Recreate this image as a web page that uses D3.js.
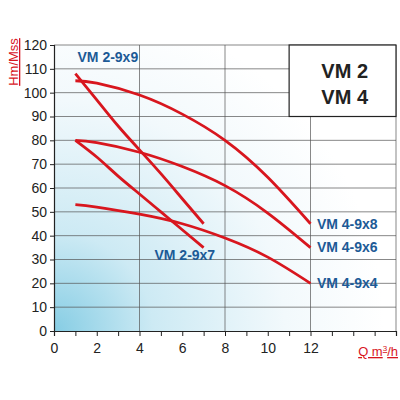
<!DOCTYPE html>
<html><head><meta charset="utf-8">
<script src="https://cdn.jsdelivr.net/npm/d3@7"></script>
<style>body{margin:0;background:#fff}</style></head>
<body><div id="chart"></div>
<script>
const xTicks = [0, 2, 4, 6, 8, 10, 12];
const yTicks = d3.range(0, 121, 10);
const seriesNames = ["VM 2-9x9", "VM 2-9x7", "VM 4-9x8", "VM 4-9x6", "VM 4-9x4"];
const q29 = [1, 2, 3, 4, 5, 6, 7];
const h299 = [108, 97, 86, 76, 66, 55.5, 45];
const h297 = [80, 73, 65, 57.5, 50, 42.5, 35];
const q49 = [1, 2, 4, 6, 8, 10, 12];
const h498 = [105, 104, 99, 91, 80, 64.5, 45];
const h496 = [80, 79, 75, 69, 61, 49.5, 35];
const h494 = [53, 52, 49, 45, 39, 31, 20];
const series = [
  { name: seriesNames[0], q: q29, h: h299, lx: 1.1, ly: 113 },
  { name: seriesNames[1], q: q29, h: h297, lx: 4.7, ly: 30 },
  { name: seriesNames[2], q: q49, h: h498, lx: 12.3, ly: 43 },
  { name: seriesNames[3], q: q49, h: h496, lx: 12.3, ly: 33 },
  { name: seriesNames[4], q: q49, h: h494, lx: 12.3, ly: 18 }
];

const svg = d3.select("#chart").append("svg").attr("width", 400).attr("height", 400)
  .style("font-family", "'Liberation Sans', Arial, sans-serif");
const x = d3.scaleLinear().domain([0, 16]).range([54, 396]);
const y = d3.scaleLinear().domain([0, 120]).range([331, 45]);

const grad = svg.append("defs").append("radialGradient").attr("id", "bg")
  .attr("gradientUnits", "userSpaceOnUse").attr("cx", 54).attr("cy", 331).attr("r", 330);
grad.append("stop").attr("offset", "0").attr("stop-color", "#86cde4");
grad.append("stop").attr("offset", "0.3").attr("stop-color", "#cdeaf4");
grad.append("stop").attr("offset", "0.7").attr("stop-color", "#f2f9fc");
grad.append("stop").attr("offset", "1").attr("stop-color", "#ffffff");

svg.append("rect").attr("x", x(0)).attr("y", y(120)).attr("width", x(16) - x(0)).attr("height", y(0) - y(120))
  .attr("fill", "url(#bg)");

// grid
svg.append("g").selectAll("line").data(yTicks.slice(1)).join("line")
  .attr("x1", x(0)).attr("x2", x(16)).attr("y1", d => y(d)).attr("y2", d => y(d))
  .attr("stroke", "#555").attr("stroke-width", 0.7);
svg.append("g").selectAll("line").data([4, 8, 12, 16]).join("line")
  .attr("x1", d => x(d)).attr("x2", d => x(d)).attr("y1", y(0)).attr("y2", y(120))
  .attr("stroke", "#555").attr("stroke-width", 0.7);

// axes
const xa = svg.append("g").attr("transform", `translate(0,${y(0)})`)
  .call(d3.axisBottom(x).tickValues(d3.range(0, 16.1, 1)).tickSize(5).tickFormat(d => xTicks.includes(d) ? d : ""));
const ya = svg.append("g").attr("transform", `translate(${x(0)},0)`)
  .call(d3.axisLeft(y).tickValues(yTicks).tickSize(4));
[xa, ya].forEach(a => {
  a.select(".domain").attr("stroke", "#222").attr("stroke-width", 1.2);
  a.selectAll("line").attr("stroke", "#222");
  a.selectAll("text").attr("font-size", 14).attr("fill", "#222").attr("font-family", "'Liberation Sans', Arial");
});
xa.selectAll("text").attr("dy", "1em");

// box
svg.append("rect").attr("x", x(11)).attr("y", y(120)).attr("width", x(16) - x(11)).attr("height", y(90) - y(120))
  .attr("fill", "#fff").attr("stroke", "#222").attr("stroke-width", 1.2);
svg.append("text").attr("x", x(13.6)).attr("y", 78).attr("text-anchor", "middle")
  .attr("font-size", 20).attr("font-weight", "bold").attr("fill", "#222").text("VM 2");
svg.append("text").attr("x", x(13.6)).attr("y", 104).attr("text-anchor", "middle")
  .attr("font-size", 20).attr("font-weight", "bold").attr("fill", "#222").text("VM 4");

// curves
const line = d3.line().curve(d3.curveNatural).x(d => x(d[0])).y(d => y(d[1]));
series.forEach(s => {
  svg.append("path").datum(s.q.map((q, i) => [q, s.h[i]])).attr("d", line)
    .attr("fill", "none").attr("stroke", "#d8161e").attr("stroke-width", 2.8);
  svg.append("text").attr("x", x(s.lx)).attr("y", y(s.ly))
    .attr("font-size", 14).attr("font-weight", "bold").attr("fill", "#1c5a96").text(s.name);
});

// axis titles
svg.append("text").attr("transform", "translate(18,62) rotate(-90)").attr("text-anchor", "middle")
  .attr("font-size", 13).attr("fill", "#d8161e").attr("text-decoration", "underline").text("Hm/Mss");
const qt = svg.append("text").attr("x", 398).attr("y", 356).attr("text-anchor", "end")
  .attr("font-size", 13).attr("fill", "#d8161e").attr("text-decoration", "underline");
qt.append("tspan").text("Q m");
qt.append("tspan").attr("font-size", 8).attr("dy", -5).text("3");
qt.append("tspan").attr("dy", 5).text("/h");
</script></body></html>
